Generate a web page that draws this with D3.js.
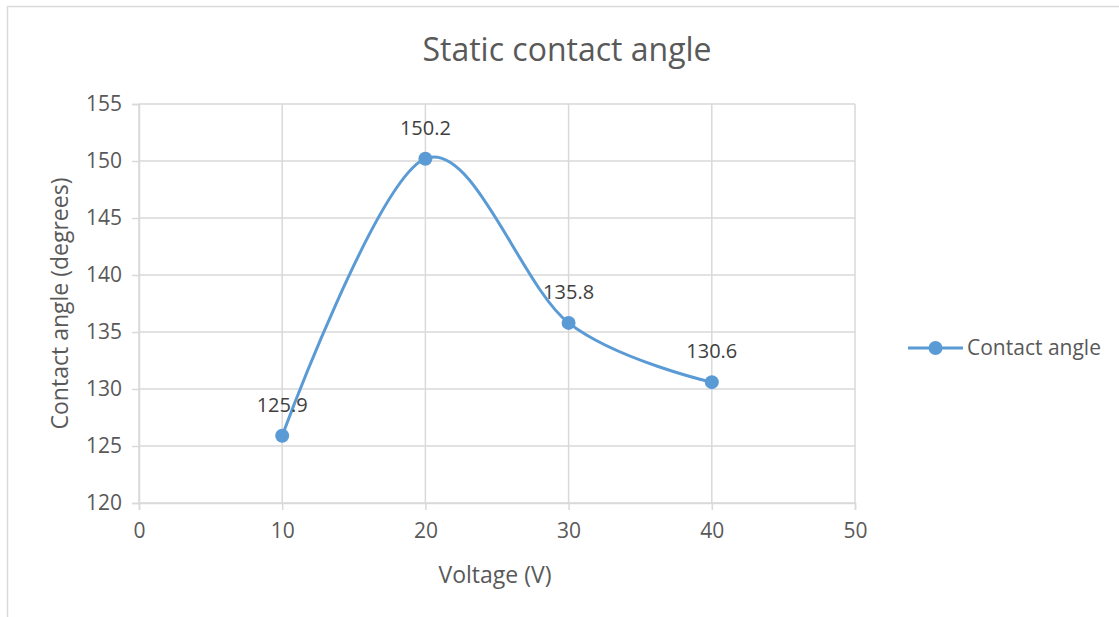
<!DOCTYPE html>
<html>
<head>
<meta charset="utf-8">
<script src="https://cdn.jsdelivr.net/npm/d3@7"></script>
<style>
  body { margin: 0; background: #fff; }
  text { font-family: "Open Sans", "Noto Sans", sans-serif; }
</style>
</head>
<body>
<div id="chart"></div>
<script>
// Data
const voltage = [10, 20, 30, 40];
const angle = [125.9, 150.2, 135.8, 130.6];
const xTicks = [0, 10, 20, 30, 40, 50];
const yTicks = [120, 125, 130, 135, 140, 145, 150, 155];
const seriesName = "Contact angle";

const W = 1119, H = 617;
const margin = { top: 104, right: 264, bottom: 114, left: 139 };
const width = W - margin.left - margin.right;
const height = H - margin.top - margin.bottom;

const svg = d3.select("#chart")
    .append("svg")
    .attr("width", W)
    .attr("height", H);

// Chart border
svg.append("rect")
    .attr("x", 7.5)
    .attr("y", 6.5)
    .attr("width", W + 20)
    .attr("height", H + 20)
    .attr("fill", "none")
    .attr("stroke", "#d9d9d9")
    .attr("stroke-width", 1.5);

const g = svg.append("g")
    .attr("transform", `translate(${margin.left},${margin.top})`);

const x = d3.scaleLinear().domain([0, 50]).range([0, width]);
const y = d3.scaleLinear().domain([120, 155]).range([height, 0]);

// Gridlines
g.selectAll(".hgrid")
    .data(yTicks)
    .enter()
    .append("line")
    .attr("x1", 0)
    .attr("x2", width)
    .attr("y1", d => y(d))
    .attr("y2", d => y(d))
    .attr("stroke", "#d9d9d9")
    .attr("stroke-width", 1.5);

g.selectAll(".vgrid")
    .data(xTicks)
    .enter()
    .append("line")
    .attr("x1", d => x(d))
    .attr("x2", d => x(d))
    .attr("y1", 0)
    .attr("y2", height)
    .attr("stroke", "#d9d9d9")
    .attr("stroke-width", 1.5);

// Axes
const xAxis = g.append("g")
    .attr("transform", `translate(0,${height})`)
    .call(d3.axisBottom(x).tickValues(xTicks).tickSize(7).tickPadding(13));

const yAxis = g.append("g")
    .call(d3.axisLeft(y).tickValues(yTicks).tickSize(7).tickPadding(10));

[xAxis, yAxis].forEach(a => {
    a.select(".domain").attr("stroke", "#d9d9d9").attr("stroke-width", 1.5);
    a.selectAll(".tick line").attr("stroke", "#d9d9d9").attr("stroke-width", 1.5);
    a.selectAll(".tick text")
        .attr("fill", "#595959")
        .style("font-size", "21px");
});

// Smoothed line
const pts = voltage.map((v, i) => ({ v: v, a: angle[i] }));

const line = d3.line()
    .x(d => x(d.v))
    .y(d => y(d.a))
    .curve(d3.curveCardinal.tension(0));

g.append("path")
    .datum(pts)
    .attr("fill", "none")
    .attr("stroke", "#5b9bd5")
    .attr("stroke-width", 3)
    .attr("stroke-linecap", "round")
    .attr("d", line);

g.selectAll(".dot")
    .data(pts)
    .enter()
    .append("circle")
    .attr("cx", d => x(d.v))
    .attr("cy", d => y(d.a))
    .attr("r", 7)
    .attr("fill", "#5b9bd5");

// Data labels
g.selectAll(".lbl")
    .data(pts)
    .enter()
    .append("text")
    .attr("x", d => x(d.v))
    .attr("y", d => y(d.a) - 24)
    .attr("text-anchor", "middle")
    .attr("fill", "#404040")
    .style("font-size", "20px")
    .text(d => d.a.toFixed(1));

// Title
svg.append("text")
    .attr("x", 567)
    .attr("y", 61)
    .attr("text-anchor", "middle")
    .attr("fill", "#595959")
    .style("font-size", "32px")
    .text("Static contact angle");

// Axis titles
svg.append("text")
    .attr("x", margin.left + x(25) - 2)
    .attr("y", 583)
    .attr("text-anchor", "middle")
    .attr("fill", "#595959")
    .style("font-size", "23px")
    .text("Voltage (V)");

svg.append("text")
    .attr("transform", `translate(68,${margin.top + height / 2}) rotate(-90)`)
    .attr("text-anchor", "middle")
    .attr("fill", "#595959")
    .style("font-size", "23px")
    .text("Contact angle (degrees)");

// Legend
const legend = svg.append("g").attr("transform", "translate(908,348)");
legend.append("line")
    .attr("x1", 0).attr("x2", 55)
    .attr("stroke", "#5b9bd5")
    .attr("stroke-width", 3);
legend.append("circle")
    .attr("cx", 27.5)
    .attr("r", 7)
    .attr("fill", "#5b9bd5");
legend.append("text")
    .attr("x", 59)
    .attr("y", 7)
    .attr("fill", "#595959")
    .style("font-size", "21px")
    .text(seriesName);
</script>
</body>
</html>
